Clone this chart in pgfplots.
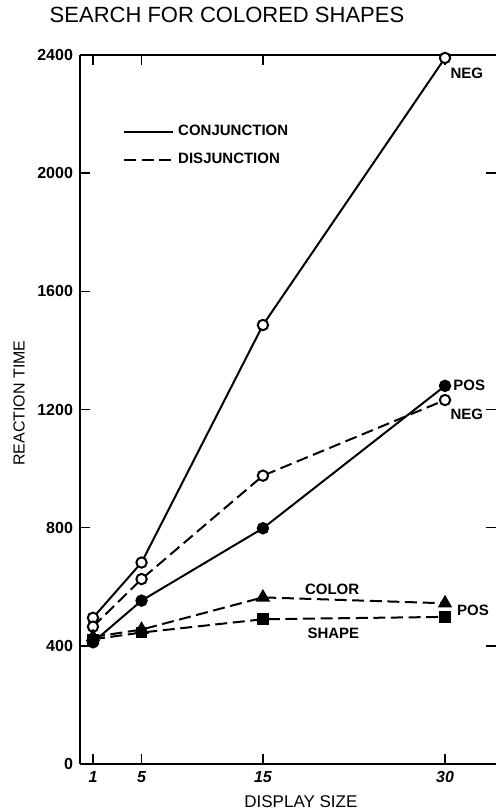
\documentclass[border=0pt]{standalone}
\usepackage{fontspec}
\setmainfont{Liberation Sans}
\usepackage{pgfplots}
\pgfplotsset{compat=1.18}
\newcommand\lab{\bfseries\fontsize{7.5}{9}\selectfont}
\begin{document}
\begin{tikzpicture}
\begin{axis}[
  name=ax,
  scale only axis, width=208pt, height=354.5pt,
  xmin=-0.07, xmax=34.2, ymin=0, ymax=2400,
  clip=false,
  axis x line*=box, axis y line*=left,
  axis line style={line width=1pt, -},
  xtick={1,5,15,30}, ytick={0,400,...,2400},
  tick align=inside, major tick length=5pt,
  tick style={line width=0.8pt, black},
  /pgf/number format/assume math mode=true,
  /pgf/number format/1000 sep={},
  ticklabel style={font=\bfseries\fontsize{8}{9}\selectfont},
  xticklabel style={font=\bfseries\itshape\fontsize{8}{9}\selectfont},
  ylabel={REACTION TIME},
  ylabel style={at={([xshift=-30.5pt]axis description cs:0,0.509)}, anchor=center, font=\fontsize{8}{9.6}\selectfont},
  xlabel={DISPLAY SIZE},
  xlabel style={at={([yshift=-19pt]axis description cs:0.531,0)}, anchor=center, font=\fontsize{8.5}{10}\selectfont},
  legend style={at={(axis description cs:0.103,0.907)}, anchor=north west, draw=none, fill=none, inner sep=0pt,
    font=\lab, row sep=3pt, cells={anchor=west}},
  legend image code/.code={\draw[#1, line width=1pt] (0pt,0pt) -- (24.5pt,0pt);},
  every axis plot/.append style={black, line width=1pt},
]
% Conjunction, negative trials
\addplot[solid, mark=*, mark size=2.6pt, mark options={solid, fill=white}]
  coordinates {(1,495) (5,682) (15,1486) (30,2390)};
\addlegendentry{CONJUNCTION}
% Disjunction, negative trials
\addplot[dash pattern=on 6pt off 2.8pt, mark=*, mark size=2.6pt, mark options={solid, fill=white}]
  coordinates {(1,465) (5,626) (15,976) (30,1232)};
\addlegendentry{DISJUNCTION}
% Conjunction, positive trials
\addplot[solid, mark=*, mark size=2.6pt, mark options={solid, fill=black}, forget plot]
  coordinates {(1,412) (5,553) (15,798) (30,1280)};
% Disjunction color, positive
\addplot[dash pattern=on 6pt off 2.8pt, mark=triangle*, mark size=3.2pt, mark options={solid, fill=black}, forget plot]
  coordinates {(1,430) (5,455) (15,564) (30,544)};
% Disjunction shape, positive
\addplot[dash pattern=on 6pt off 2.8pt, mark=square*, mark size=2.4pt, mark options={solid, fill=black}, forget plot]
  coordinates {(1,422) (5,445) (15,490) (30,498)};

\node[font=\lab] at (axis cs:31.8,2339) {NEG};
\node[font=\lab] at (axis cs:32.0,1283) {POS};
\node[font=\lab] at (axis cs:31.8,1185) {NEG};
\node[font=\lab] at (axis cs:20.7,592) {COLOR};
\node[font=\lab] at (axis cs:20.8,443) {SHAPE};
\node[font=\lab] at (axis cs:32.3,521) {POS};
\draw[line width=0.8pt] (axis cs:34.2,400) -- ++(-5pt,0pt);
\draw[line width=0.8pt] (axis cs:34.2,800) -- ++(-5pt,0pt);
\draw[line width=0.8pt] (axis cs:34.2,1200) -- ++(-5pt,0pt);
\draw[line width=0.8pt] (axis cs:34.2,2000) -- ++(-5pt,0pt);
\end{axis}
\node[font=\fontsize{11}{13}\selectfont] at ([xshift=73.5pt,yshift=20pt]ax.north west) {SEARCH FOR COLORED SHAPES};
\pgfresetboundingbox
\path ([shift={(-40pt,-23pt)}]ax.south west) rectangle ([shift={(0pt,27.5pt)}]ax.north east);
\end{tikzpicture}
\end{document}
